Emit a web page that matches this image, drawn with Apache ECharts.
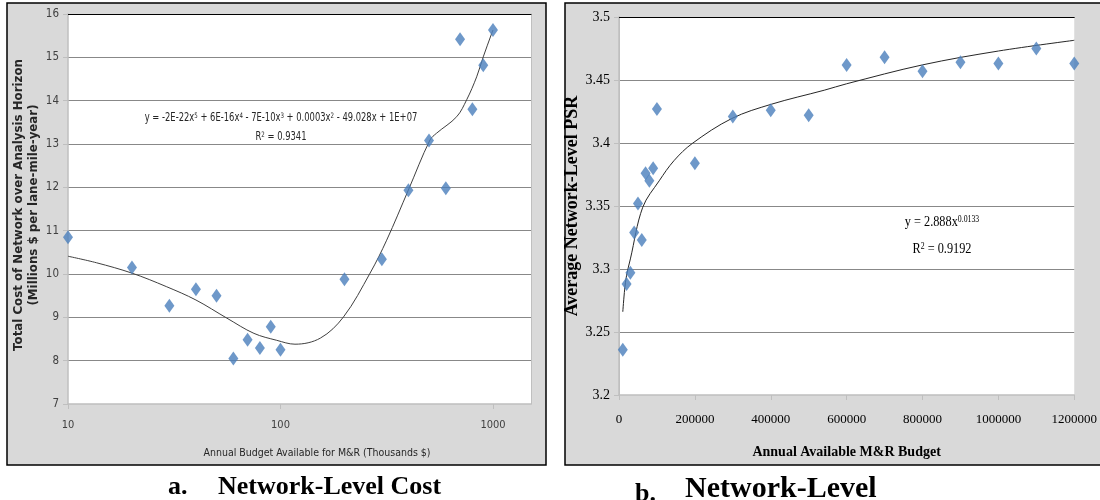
<!DOCTYPE html>
<html><head><meta charset="utf-8">
<script src="https://cdn.jsdelivr.net/npm/echarts@6/dist/echarts.min.js"></script>
<style>html,body{margin:0;padding:0;background:#fff;}#c{width:1100px;height:500px;}</style>
</head><body><div id="c"></div>
<script>
// ---- Panel a: Network-Level Cost ----
const costBudget = [10, 20, 30, 40, 50, 60, 70, 80, 90, 100, 200, 300, 400, 500, 600, 700, 800, 900, 1000];
const costValues = [10.85, 10.15, 9.27, 9.65, 9.50, 8.05, 8.48, 8.29, 8.78, 8.25, 9.88, 10.34, 11.93, 13.08, 11.98, 15.42, 13.80, 14.82, 15.63];
const costTrendX = [10, 13.6, 20, 29, 40, 56, 75, 96, 117, 154, 198, 264, 316, 400, 505, 543, 675, 752, 838, 900, 986, 1000];
const costTrendY = [10.41, 10.26, 10.02, 9.71, 9.40, 8.98, 8.63, 8.47, 8.38, 8.52, 9.01, 10.02, 10.78, 11.94, 13.09, 13.25, 13.63, 14.02, 14.55, 15.01, 15.55, 15.63];
const costYTicks = [7, 8, 9, 10, 11, 12, 13, 14, 15, 16];
const costXTicks = [10, 100, 1000];
const costXMax = 1510;

// ---- Panel b: Network-Level PSR ----
const psrBudget = [10000, 20000, 30000, 40000, 50000, 60000, 70000, 80000, 90000, 100000, 200000, 300000, 400000, 500000, 600000, 700000, 800000, 900000, 1000000, 1100000, 1200000];
const psrValues = [3.236, 3.288, 3.297, 3.329, 3.352, 3.323, 3.376, 3.370, 3.380, 3.427, 3.384, 3.421, 3.426, 3.422, 3.462, 3.468, 3.457, 3.464, 3.463, 3.475, 3.463];
const psrTrendX = [10000, 15000, 20000, 30000, 62600, 106000, 145000, 193000, 297000, 402000, 541000, 600000, 800000, 1000000, 1200000];
const psrTrendY = [3.266, 3.284, 3.295, 3.308, 3.349, 3.370, 3.386, 3.3996, 3.4194, 3.4308, 3.4419, 3.447, 3.462, 3.473, 3.4815];
const psrYTicks = [3.2, 3.25, 3.3, 3.35, 3.4, 3.45, 3.5];
const psrXTicks = [0, 200000, 400000, 600000, 800000, 1000000, 1200000];

const NARROW = "'Liberation Sans Narrow', 'DejaVu Sans Condensed', 'Arial Narrow', sans-serif";
const SERIF = "'Liberation Serif', 'Times New Roman', serif";
const LIGHT = '#bfbfbf';
const GRIDC = '#888888';
const MARK = '#4a7ebb';

const zip = (a, b) => a.map((v, i) => [v, b[i]]);

function eqText(px, py, text, family, size, supSize, color, sx) {
  return {type: 'text', z: 10, x: px, y: py, scaleX: sx, scaleY: 1,
    style: {x: 0, y: 0, align: 'center', verticalAlign: 'middle', text: text,
      fontFamily: family, fontSize: size, fill: color,
      rich: {s: {fontFamily: family, fontSize: supSize, verticalAlign: 'top', lineHeight: supSize + 2, fill: color}}}};
}

const chart = echarts.init(document.getElementById('c'), null, {renderer: 'canvas'});
chart.setOption({
  animation: false,
  backgroundColor: '#ffffff',
  graphic: [
    {type: 'rect', z: -10, shape: {x: 7, y: 3, width: 539, height: 462}, style: {fill: '#d9d9d9', stroke: '#000', lineWidth: 1.5}},
    {type: 'rect', z: -10, shape: {x: 565, y: 3, width: 560, height: 462}, style: {fill: '#d9d9d9', stroke: '#000', lineWidth: 1.5}},
    eqText(281, 118, 'y = -2E-22x{s|5} + 6E-16x{s|4} - 7E-10x{s|3} + 0.0003x{s|2} - 49.028x + 1E+07', NARROW, 11.5, 7.5, '#262626', 0.81),
    eqText(281, 137, 'R{s|2} = 0.9341', NARROW, 11.5, 7.5, '#262626', 0.81),
    eqText(942, 222, 'y = 2.888x{s|0.0133}', SERIF, 15, 9.5, '#000', 0.82),
    eqText(942, 249, 'R{s|2} = 0.9192', SERIF, 15, 9.5, '#000', 0.82),
    {type: 'text', z: 10, style: {x: 168, y: 487, verticalAlign: 'middle', text: 'a.', fontFamily: SERIF, fontWeight: 'bold', fontSize: 26, fill: '#000'}},
    {type: 'text', z: 10, style: {x: 218, y: 487, verticalAlign: 'middle', text: 'Network-Level Cost', fontFamily: SERIF, fontWeight: 'bold', fontSize: 26, fill: '#000'}},
    {type: 'text', z: 10, style: {x: 635, y: 494, verticalAlign: 'middle', text: 'b.', fontFamily: SERIF, fontWeight: 'bold', fontSize: 26, fill: '#000'}},
    {type: 'text', z: 10, style: {x: 685, y: 489, verticalAlign: 'middle', text: 'Network-Level', fontFamily: SERIF, fontWeight: 'bold', fontSize: 30, fill: '#000'}}
  ],
  grid: [
    {left: 68, top: 14, width: 463, height: 390, show: true, backgroundColor: '#fff', borderWidth: 0},
    {left: 619, top: 17, width: 460, height: 378, show: true, backgroundColor: '#fff', borderWidth: 0}
  ],
  xAxis: [
    {type: 'log', logBase: 10, gridIndex: 0, min: costXTicks[0], max: costXMax,
      axisLine: {show: true, lineStyle: {color: LIGHT, width: 1.5}},
      axisTick: {show: true, length: 5, lineStyle: {color: LIGHT}},
      minorTick: {show: false}, splitLine: {show: false},
      axisLabel: {formatter: v => String(v), color: '#404040', fontFamily: NARROW, fontSize: 11, margin: 16, showMaxLabel: false},
      name: 'Annual Budget Available for M&R (Thousands $)', nameLocation: 'middle', nameGap: 44,
      nameTextStyle: {fontFamily: NARROW, fontSize: 10.5, color: '#262626', padding: [0, 0, 0, 35]}},
    {type: 'value', gridIndex: 0, position: 'top', min: 0, max: 1,
      axisLine: {show: true, lineStyle: {color: '#000', width: 1}}, axisTick: {show: false}, axisLabel: {show: false}, splitLine: {show: false}},
    {type: 'value', gridIndex: 1, min: psrXTicks[0], max: psrXTicks[psrXTicks.length - 1], interval: psrXTicks[1] - psrXTicks[0],
      axisLine: {show: true, lineStyle: {color: LIGHT, width: 1.5}},
      axisTick: {show: true, length: 5, lineStyle: {color: LIGHT}},
      splitLine: {show: false},
      axisLabel: {formatter: v => String(v), color: '#000', fontFamily: SERIF, fontSize: 13, margin: 18},
      name: 'Annual Available M&R Budget', nameLocation: 'middle', nameGap: 50,
      nameTextStyle: {fontFamily: SERIF, fontWeight: 'bold', fontSize: 14, color: '#000'}},
    {type: 'value', gridIndex: 1, position: 'top', min: 0, max: 1,
      axisLine: {show: true, lineStyle: {color: '#000', width: 1}}, axisTick: {show: false}, axisLabel: {show: false}, splitLine: {show: false}}
  ],
  yAxis: [
    {type: 'value', gridIndex: 0, min: costYTicks[0], max: costYTicks[costYTicks.length - 1], interval: costYTicks[1] - costYTicks[0],
      axisLine: {show: true, lineStyle: {color: LIGHT, width: 1.5}},
      axisTick: {show: true, length: 5, lineStyle: {color: LIGHT}},
      axisLabel: {color: '#404040', fontFamily: NARROW, fontSize: 11.5, margin: 9},
      splitLine: {show: true, showMinLine: false, showMaxLine: false, lineStyle: {color: GRIDC, width: 1}},
      name: 'Total Cost of Network over Analysis Horizon\n(Millions $ per lane-mile-year)', nameLocation: 'middle', nameGap: 27, nameRotate: 90,
      nameTextStyle: {fontFamily: "'DejaVu Sans', sans-serif", fontWeight: 'bold', fontSize: 11.8, lineHeight: 15, color: '#262626', padding: [0, 0, 0, 8]}},
    {type: 'value', gridIndex: 0, position: 'right', min: 0, max: 1,
      axisLine: {show: true, lineStyle: {color: LIGHT, width: 1}}, axisTick: {show: false}, axisLabel: {show: false}, splitLine: {show: false}},
    {type: 'value', gridIndex: 1, min: psrYTicks[0], max: psrYTicks[psrYTicks.length - 1], interval: 0.05,
      axisLine: {show: true, lineStyle: {color: LIGHT, width: 1.5}},
      axisTick: {show: true, length: 5, lineStyle: {color: LIGHT}},
      axisLabel: {color: '#000', fontFamily: SERIF, fontSize: 14, margin: 9},
      splitLine: {show: true, showMinLine: false, showMaxLine: false, lineStyle: {color: GRIDC, width: 1}},
      name: 'Average Network-Level PSR', nameLocation: 'middle', nameGap: 34, nameRotate: 90,
      nameTextStyle: {fontFamily: SERIF, fontWeight: 'bold', fontSize: 18, color: '#000'}},
    {type: 'value', gridIndex: 1, position: 'right', min: 0, max: 1,
      axisLine: {show: true, lineStyle: {color: LIGHT, width: 1}}, axisTick: {show: false}, axisLabel: {show: false}, splitLine: {show: false}}
  ],
  series: [
    {type: 'line', xAxisIndex: 0, yAxisIndex: 0, data: zip(costTrendX, costTrendY), showSymbol: false, smooth: 0.35,
      lineStyle: {color: '#404040', width: 1}, z: 2, silent: true},
    {type: 'scatter', xAxisIndex: 0, yAxisIndex: 0, data: zip(costBudget, costValues), symbol: 'diamond', symbolSize: [10, 14],
      itemStyle: {color: MARK}, z: 3},
    {type: 'line', xAxisIndex: 2, yAxisIndex: 2, data: zip(psrTrendX, psrTrendY), showSymbol: false, smooth: 0.35,
      lineStyle: {color: '#262626', width: 1}, z: 2, silent: true},
    {type: 'scatter', xAxisIndex: 2, yAxisIndex: 2, data: zip(psrBudget, psrValues), symbol: 'diamond', symbolSize: [10, 14],
      itemStyle: {color: MARK}, z: 3}
  ]
});
</script></body></html>
